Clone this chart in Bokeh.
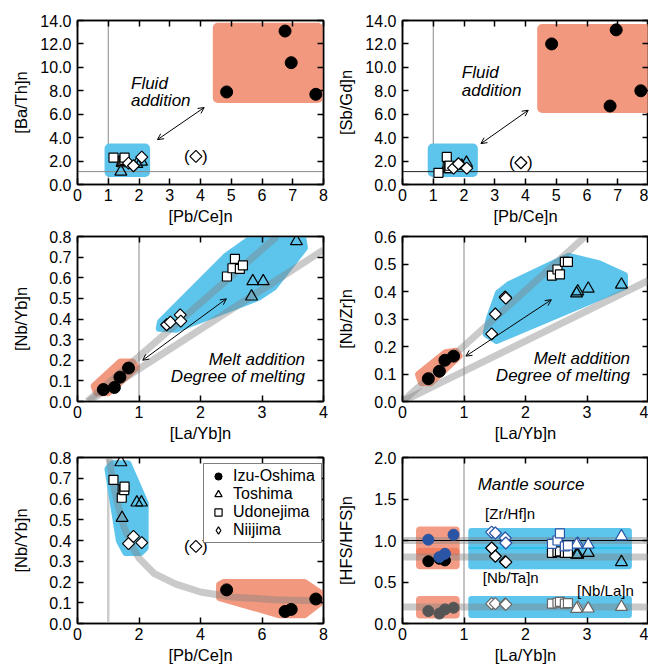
import numpy as np
from bokeh.plotting import figure
from bokeh.models import (Range1d, FixedTicker, PrintfTickFormatter, LinearAxis, Span,
                          BoxAnnotation, Arrow, OpenHead, Label, Legend, LegendItem)
from bokeh.layouts import row, column
from bokeh.embed import file_html
from bokeh.resources import INLINE

FONT = "Liberation Sans"
BLUE = "#5dc5ec"
RED = "#f2987e"
RED_T = "#ee7455"
BAND = "#808080"
HFS_BLUE = "#2a55a5"
NBLA_GREY = "#555555"
nan = float("nan")

# ---------------- data ----------------
# Izu-Oshima
izu_pbce = [4.85, 6.75, 6.95, 7.75]
izu_bath = [7.9, 13.1, 10.4, 7.7]
izu_sbgd = [12.0, 6.7, 13.2, 8.0]
izu_layb = [0.83, 0.42, 0.60, 0.69]
izu_nbyb = [0.162, 0.058, 0.068, 0.118]
izu_nbzr = [0.165, 0.083, 0.110, 0.150]
izu_zrhf = [1.07, 1.01, 0.80, 0.84]
izu_nbta = [nan, 0.75, 0.78, 0.76]
izu_nbla = [0.19, 0.15, 0.12, 0.17]
# Toshima
tos_pbce = [1.41, 1.93, 2.08, 1.45]
tos_bath = [1.1, 1.75, 1.95, 1.85]
tos_sbgd = [1.3, 1.6, 1.85, 1.5]
tos_layb = [3.56, 2.85, 3.02, 2.83]
tos_nbyb = [0.777, 0.583, 0.583, 0.509]
tos_nbzr = [0.425, 0.400, 0.410, 0.393]
tos_zrhf = [1.05, 0.96, 0.95, 0.95]
tos_nbta = [0.74, 0.83, 0.85, 0.83]
tos_nbla = [0.20, 0.19, 0.18, 0.175]
# Udonejima
udo_pbce = [1.44, 1.47, 1.17, 1.52, 1.53]
udo_bath = [1.9, 2.0, 2.3, 2.1, 2.3]
udo_sbgd = [2.35, 1.5, 1.0, 1.4, 1.6]
udo_layb = [2.43, 2.52, 2.56, 2.64, 2.69]
udo_nbyb = [0.606, 0.646, 0.692, 0.643, 0.660]
udo_nbzr = [0.458, 0.480, 0.462, 0.508, 0.508]
udo_zrhf = [0.96, 1.00, 1.085, 0.93, 0.94]
udo_nbta = [0.85, 0.86, 0.87, 0.85, 0.85]
udo_nbla = [0.24, 0.25, 0.26, 0.24, 0.245]
# Niijima (first sample is the bracketed one)
nii_pbce = [3.85, 1.66, 1.82, 2.09]
nii_bath = [2.4, 1.83, 1.6, 2.34]
nii_sbgd = [1.86, 1.40, 1.77, 1.40]
nii_layb = [1.45, 1.51, 1.67, 1.68]
nii_nbyb = [0.372, 0.385, 0.420, 0.390]
nii_nbzr = [0.246, 0.318, 0.380, 0.376]
nii_zrhf = [1.10, 1.09, 1.03, 0.97]
nii_nbta = [0.91, 0.81, 0.745, 0.74]
nii_nbla = [0.24, 0.24, 0.235, 0.23]

# reference values / fields (left, right, bottom, top)
ref_x = 1.0
ref_y_top = 1.1
blue_box_1 = (0.88, 2.36, 0.65, 3.5)
red_box_1 = (4.4, 7.98, 6.95, 13.8)
blue_box_2 = (0.82, 2.45, 0.65, 3.5)
red_box_2 = (4.38, 8.1, 6.1, 13.7)
arrow_1 = (2.6, 3.83, 4.12, 6.57)
arrow_2 = (2.55, 3.49, 4.09, 6.34)

blue_hull_3_x = [1.33, 1.35, 2.42, 2.87, 3.66, 3.69, 3.19, 2.94, 1.6]
blue_hull_3_y = [0.355, 0.385, 0.705, 0.80, 0.80, 0.745, 0.555, 0.505, 0.35]
red_hull_3_x = [0.27, 0.70, 0.89, 0.96, 0.50, 0.31]
red_hull_3_y = [0.075, 0.192, 0.192, 0.165, 0.043, 0.043]
band_up_3_x, band_up_3_y = [0.16, 3.24], [0.0, 0.8]
band_lo_3_x, band_lo_3_y = [0.18, 4.0], [0.0, 0.735]
arrow_3 = (1.06, 0.2, 2.42, 0.498)

blue_hull_4_x = [1.36, 1.41, 1.56, 1.73, 2.7, 3.2, 3.61, 3.61, 1.53]
blue_hull_4_y = [0.245, 0.30, 0.395, 0.425, 0.528, 0.50, 0.458, 0.418, 0.222]
red_hull_4_x = [0.26, 0.70, 0.87, 0.92, 0.46, 0.31]
red_hull_4_y = [0.098, 0.177, 0.183, 0.166, 0.068, 0.068]
band_up_4_x, band_up_4_y = [0.0, 2.97], [0.0, 0.6]
band_lo_4_x, band_lo_4_y = [0.0, 4.0], [0.0, 0.44]
arrow_4 = (1.03, 0.165, 2.42, 0.37)

blue_hull_5_x = [0.99, 1.13, 1.64, 2.2, 2.2, 2.05, 1.57, 1.36]
blue_hull_5_y = [0.745, 0.77, 0.77, 0.58, 0.365, 0.342, 0.342, 0.40]
red_hull_5_x = [4.62, 4.77, 7.38, 8.1, 7.38, 6.57, 4.62]
red_hull_5_y = [0.186, 0.198, 0.198, 0.125, 0.042, 0.042, 0.125]
curve_5_x = [1.02, 1.1, 1.2, 1.32, 1.5, 1.75, 2.0, 2.5, 3.2, 4.0, 5.0, 6.4, 8.0]
curve_5_y = [0.80, 0.73, 0.65, 0.57, 0.47, 0.38, 0.315, 0.24, 0.19, 0.152, 0.128, 0.115, 0.108]

red_box_6a = (0.22, 0.93, 0.82, 1.17)
red_box_6b = (0.22, 0.93, 0.655, 0.91)
red_box_6c = (0.22, 0.93, 0.06, 0.33)
blue_box_6a = (1.07, 3.73, 0.655, 1.15)
blue_box_6b = (1.07, 3.73, 0.065, 0.33)
cyan_line_6 = 0.91
bands_6 = [1.0, 0.8, 0.2]

STY = {
    "izu": dict(marker="circle", size=12, fill_color="black", line_color="black"),
    "tos": dict(marker="triangle", size=12, fill_color=None, line_color="black", line_width=1.2),
    "udo": dict(marker="square", size=9, fill_color="white", line_color="black", line_width=1.2),
    "nii": dict(marker="square", size=8.5, angle=np.pi / 4, fill_color="white",
                line_color="black", line_width=1.2),
}


def make_fig(w, h, xmax, ymax, xticks, yticks, yfmt, xlab, ylab,
             bl, br, bt, bb, ylab_off, xtick_off, xlab_off):
    p = figure(width=w, height=h, x_range=Range1d(0, xmax), y_range=Range1d(0, ymax),
               output_backend="svg", toolbar_location=None,
               min_border_left=bl, min_border_right=br, min_border_top=bt, min_border_bottom=bb)
    p.grid.visible = False
    p.outline_line_color = "black"
    p.outline_line_width = 1.5
    p.background_fill_color = "white"
    p.border_fill_color = "white"
    xa, ya = p.xaxis[0], p.yaxis[0]
    xa.ticker = FixedTicker(ticks=xticks)
    ya.ticker = FixedTicker(ticks=yticks)
    xa.formatter = PrintfTickFormatter(format="%d")
    ya.formatter = PrintfTickFormatter(format=yfmt)
    for ax in (xa, ya):
        ax.major_tick_in = 6
        ax.major_tick_out = 0
        ax.minor_tick_in = 0
        ax.minor_tick_out = 0
        ax.major_tick_line_width = 1.5
        ax.axis_line_width = 1.5
        ax.major_label_text_font = FONT
        ax.major_label_text_font_size = "16px"
        ax.major_label_text_color = "black"
        ax.axis_label_text_font = FONT
        ax.axis_label_text_font_size = "16.5px"
        ax.axis_label_text_font_style = "normal"
        ax.axis_label_text_color = "black"
    xa.axis_label = xlab
    ya.axis_label = ylab
    xa.major_label_standoff = xtick_off
    xa.axis_label_standoff = xlab_off
    ya.major_label_standoff = 6
    ya.axis_label_standoff = ylab_off
    for loc, tk in (("above", xticks), ("right", yticks)):
        ax = LinearAxis(ticker=FixedTicker(ticks=tk), major_label_text_font_size="0px",
                        major_label_text_color=None,
                        major_label_standoff=0, major_tick_in=6, major_tick_out=0,
                        minor_tick_in=0, minor_tick_out=0, axis_line_width=1.5,
                        major_tick_line_width=1.5)
        p.add_layout(ax, loc)
    return p


def box(p, b, color, alpha=1.0, radius=5):
    p.add_layout(BoxAnnotation(left=b[0], right=b[1], bottom=b[2], top=b[3], fill_color=color,
                               fill_alpha=alpha, line_color=None, border_radius=radius,
                               level="underlay"))


def hull(p, xs, ys, color):
    p.patch(xs, ys, fill_color=color, line_color=color, line_width=7, line_join="round")


def vline(p, color="#888888", width=1.0):
    p.add_layout(Span(location=ref_x, dimension="height", line_color=color,
                      line_width=width, level="underlay"))


def hline(p, y, color="#888888", width=1.0):
    p.add_layout(Span(location=y, dimension="width", line_color=color,
                      line_width=width, level="underlay"))


def arrow(p, a):
    p.add_layout(Arrow(x_start=a[0], y_start=a[1], x_end=a[2], y_end=a[3], line_width=1,
                       start=OpenHead(size=6, line_width=1), end=OpenHead(size=6, line_width=1)))


def label(p, x, y, text, size="17px", style="italic", align="left", xoff=0):
    p.add_layout(Label(x=x, y=y, text=text, text_font=FONT, text_font_size=size,
                       text_font_style=style, text_align=align, text_baseline="middle",
                       x_offset=xoff, text_color="black"))


def brackets(p, x, y):
    label(p, x, y, "(", style="normal", align="center", xoff=-9)
    label(p, x, y, ")", style="normal", align="center", xoff=9)


def pts(p, x, y, kind, **over):
    st = dict(STY[kind])
    st.update(over)
    return p.scatter(x, y, **st)


yt14 = [0, 2, 4, 6, 8, 10, 12, 14]
x8 = [0, 1, 2, 3, 4, 5, 6, 7, 8]
x4 = [0, 1, 2, 3, 4]

# ---------- panel 1 ----------
p1 = make_fig(333, 228, 8, 14, x8, yt14, "%.1f", "[Pb/Ce]n", "[Ba/Th]n",
              77, 10, 20, 44, 7, 4, 3)
vline(p1)
box(p1, blue_box_1, BLUE)
box(p1, red_box_1, RED)
hline(p1, ref_y_top)
pts(p1, tos_pbce, tos_bath, "tos")
pts(p1, udo_pbce, udo_bath, "udo")
pts(p1, nii_pbce, nii_bath, "nii")
pts(p1, izu_pbce, izu_bath, "izu")
brackets(p1, nii_pbce[0], nii_bath[0])
arrow(p1, arrow_1)
label(p1, 1.74, 8.6, "Fluid")
label(p1, 1.74, 7.15, "addition")

# ---------- panel 2 ----------
p2 = make_fig(315, 228, 8, 14, x8, yt14, "%.1f", "[Pb/Ce]n", "[Sb/Gd]n",
              69, 0, 20, 44, 7, 4, 3)
vline(p2)
box(p2, blue_box_2, BLUE)
box(p2, red_box_2, RED)
hline(p2, ref_y_top, color="#222222")
pts(p2, tos_pbce, tos_sbgd, "tos")
pts(p2, udo_pbce, udo_sbgd, "udo")
pts(p2, nii_pbce, nii_sbgd, "nii")
pts(p2, izu_pbce, izu_sbgd, "izu")
brackets(p2, nii_pbce[0], nii_sbgd[0])
arrow(p2, arrow_2)
label(p2, 1.93, 9.55, "Fluid")
label(p2, 1.93, 8.05, "addition")

# ---------- panel 3 ----------
yt08 = [0, 0.1, 0.2, 0.3, 0.4, 0.5, 0.6, 0.7, 0.8]
p3 = make_fig(333, 217, 4, 0.8, x4, yt08, "%.1f", "[La/Yb]n", "[Nb/Yb]n",
              77, 10, 8, 44, 16, 4, 3)
vline(p3)
hull(p3, blue_hull_3_x, blue_hull_3_y, BLUE)
hull(p3, red_hull_3_x, red_hull_3_y, RED)
p3.line(band_up_3_x, band_up_3_y, line_width=7, color=BAND, alpha=0.42)
p3.line(band_lo_3_x, band_lo_3_y, line_width=7, color=BAND, alpha=0.42)
pts(p3, tos_layb, tos_nbyb, "tos")
pts(p3, udo_layb, udo_nbyb, "udo")
pts(p3, nii_layb, nii_nbyb, "nii")
pts(p3, izu_layb, izu_nbyb, "izu")
arrow(p3, arrow_3)
label(p3, 3.7, 0.202, "Melt addition", align="right")
label(p3, 3.7, 0.121, "Degree of melting", align="right")

# ---------- panel 4 ----------
yt06 = [0, 0.1, 0.2, 0.3, 0.4, 0.5, 0.6]
p4 = make_fig(315, 217, 4, 0.6, x4, yt06, "%.1f", "[La/Yb]n", "[Nb/Zr]n",
              69, 0, 8, 44, 16, 4, 3)
vline(p4)
hull(p4, blue_hull_4_x, blue_hull_4_y, BLUE)
hull(p4, red_hull_4_x, red_hull_4_y, RED)
p4.line(band_up_4_x, band_up_4_y, line_width=7, color=BAND, alpha=0.42)
p4.line(band_lo_4_x, band_lo_4_y, line_width=7, color=BAND, alpha=0.42)
pts(p4, tos_layb, tos_nbzr, "tos")
pts(p4, udo_layb, udo_nbzr, "udo")
pts(p4, nii_layb, nii_nbzr, "nii")
pts(p4, izu_layb, izu_nbzr, "izu")
arrow(p4, arrow_4)
label(p4, 3.7, 0.157, "Melt addition", align="right")
label(p4, 3.7, 0.095, "Degree of melting", align="right")

# ---------- panel 5 ----------
p5 = make_fig(333, 222, 8, 0.8, [0, 2, 4, 6, 8], yt08, "%.1f", "[Pb/Ce]n", "[Nb/Yb]n",
              77, 10, 12, 44, 16, 4, 3)
vline(p5, color="#cccccc", width=2.5)
hull(p5, blue_hull_5_x, blue_hull_5_y, BLUE)
hull(p5, red_hull_5_x, red_hull_5_y, RED)
p5.line(curve_5_x, curve_5_y, line_width=7, color=BAND, alpha=0.42, line_join="round")
pts(p5, tos_pbce, tos_nbyb, "tos")
pts(p5, udo_pbce, udo_nbyb, "udo")
pts(p5, nii_pbce, nii_nbyb, "nii")
pts(p5, izu_pbce, izu_nbyb, "izu")
brackets(p5, nii_pbce[0], nii_nbyb[0])
# hidden renderers that only supply the legend glyphs
lg_izu = p5.scatter(izu_pbce, izu_nbyb, marker="circle", fill_color="black",
                    line_color="black", visible=False)
lg_tos = p5.scatter(tos_pbce, tos_nbyb, marker="triangle", fill_color=None,
                    line_color="black", line_width=1.2, visible=False)
lg_udo = p5.scatter(udo_pbce, udo_nbyb, marker="square", fill_color="white",
                    line_color="black", line_width=1.2, visible=False)
lg_nii = p5.scatter(nii_pbce, nii_nbyb, marker="diamond", fill_color="white",
                    line_color="black", line_width=1.2, visible=False)
legend = Legend(items=[LegendItem(label="Izu-Oshima", renderers=[lg_izu]),
                       LegendItem(label="Toshima", renderers=[lg_tos]),
                       LegendItem(label="Udonejima", renderers=[lg_udo]),
                       LegendItem(label="Niijima", renderers=[lg_nii])],
                location=(126, 80), border_line_color="black", border_line_width=1,
                background_fill_color="white", background_fill_alpha=1,
                label_text_font=FONT, label_text_font_size="16px", label_text_color="black",
                glyph_height=18, glyph_width=22, label_height=16, spacing=0,
                padding=3, label_standoff=4, label_width=85, margin=0,
                click_policy="none", inactive_fill_alpha=0)
p5.add_layout(legend)

# ---------- panel 6 ----------
p6 = make_fig(315, 222, 4, 2.0, x4, [0, 0.5, 1.0, 1.5, 2.0], "%.1f", "[La/Yb]n", "[HFS/HFS]n",
              69, 0, 12, 44, 16, 4, 3)
vline(p6)
box(p6, red_box_6a, RED_T, alpha=0.72, radius=4)
box(p6, red_box_6b, RED_T, alpha=0.72, radius=4)
box(p6, red_box_6c, RED_T, alpha=0.72, radius=4)
box(p6, blue_box_6a, BLUE, radius=3)
box(p6, blue_box_6b, BLUE, radius=3)
for yb in bands_6:
    p6.line([0, 4], [yb, yb], line_width=7, color=BAND, alpha=0.42)
p6.line([blue_box_6a[0], blue_box_6a[1]], [cyan_line_6, cyan_line_6], line_width=1.5, color="#22c0f0")
p6.line([0, 4], [bands_6[0], bands_6[0]], line_width=1.2, color="black")

blk = dict(line_color="black")
blu = dict(line_color=HFS_BLUE, fill_color="white")
gry = dict(line_color="#666666", fill_color="white")
# Nb/Ta (black)
pts(p6, tos_layb, tos_nbta, "tos", **blk)
pts(p6, udo_layb, udo_nbta, "udo", **blk)
pts(p6, nii_layb, nii_nbta, "nii", **blk)
pts(p6, izu_layb, izu_nbta, "izu", size=11)
# Zr/Hf (blue)
pts(p6, tos_layb, tos_zrhf, "tos", **blu)
pts(p6, udo_layb, udo_zrhf, "udo", **blu)
pts(p6, nii_layb, nii_zrhf, "nii", **blu)
pts(p6, izu_layb, izu_zrhf, "izu", size=11, fill_color=HFS_BLUE, line_color=HFS_BLUE)
# Nb/La (grey)
pts(p6, tos_layb, tos_nbla, "tos", **gry)
pts(p6, udo_layb, udo_nbla, "udo", **gry)
pts(p6, nii_layb, nii_nbla, "nii", **gry)
pts(p6, izu_layb, izu_nbla, "izu", size=11, fill_color=NBLA_GREY, line_color=NBLA_GREY)
label(p6, 2.09, 1.67, "Mantle source", align="center")
label(p6, 1.75, 1.32, "[Zr/Hf]n", size="15px", style="normal", align="center")
label(p6, 1.76, 0.55, "[Nb/Ta]n", size="15px", style="normal", align="center")
label(p6, 3.30, 0.40, "[Nb/La]n", size="15px", style="normal", align="center")

layout = column(row(p1, p2), row(p3, p4), row(p5, p6))
open("out.html", "w").write(file_html(layout, INLINE, "HFS plots"))
